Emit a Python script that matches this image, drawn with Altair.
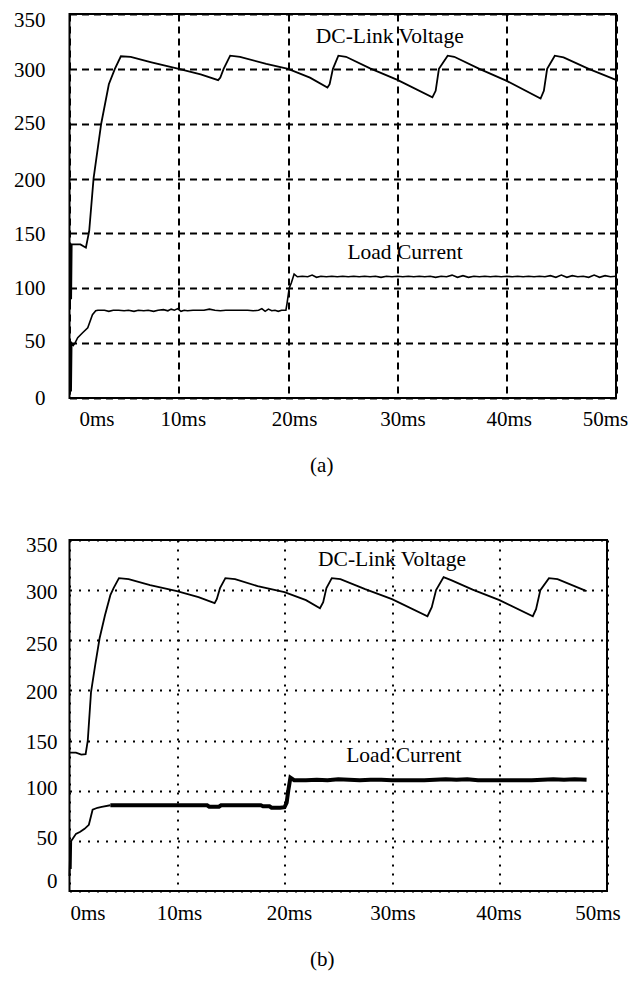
import altair as alt
import pandas as pd

FONT = "Liberation Serif"
X_TICKS = [0, 10, 20, 30, 40, 50]
Y_TICKS = [0, 50, 100, 150, 200, 250, 300, 350]
ANN_TEXT = ["DC-Link Voltage", "Load Current"]

# ---------- panel (a) ----------
VA_T = [0.05, 0.1, 0.15, 0.2, 0.3, 1.0, 1.5, 1.8, 2.2, 2.9, 3.6, 4.15, 4.7, 5.6, 7.5, 10.0, 12.0,
        13.6, 13.8, 14.1, 14.7, 15.6, 18.0, 20.0, 22.0, 23.6, 23.8, 24.1, 24.6, 25.3, 27.5, 30.0,
        33.2, 33.5, 33.8, 34.6, 35.2, 37.5, 40.0, 43.1, 43.4, 43.7, 44.4, 45.2, 47.5, 50.0]
VA_V = [84, 141, 90, 140, 140, 140, 137, 152, 200, 250, 286, 300, 311.5, 311, 306, 300, 295,
        289.7, 292, 300, 312, 311, 304.5, 300, 292, 283, 286, 300, 312, 311, 300.5, 290,
        274, 280, 300, 312, 311, 300, 289, 273, 280, 300, 312, 310.5, 300, 290]

IA_T = [0.05, 0.1, 0.15, 0.2, 0.35, 0.5, 0.75, 1.2, 1.67, 2.1, 2.4, 2.6,
        3.2, 3.6, 4.0, 4.5, 5.0, 5.4, 5.9, 6.3, 6.8, 7.2, 7.7, 8.1, 8.6, 9.0, 9.3, 9.6, 9.9,
        10.2, 10.5, 10.8, 11.3, 11.8, 12.3, 12.8, 13.3, 13.8, 14.3, 14.8, 15.3, 15.8, 16.3,
        16.8, 17.3, 17.6, 17.9, 18.2, 18.5, 18.8, 19.1, 19.4, 19.8, 19.9, 20.1, 20.3, 20.55,
        20.85, 21.3, 21.8, 22.2, 22.6, 23.0, 23.5, 24.0, 24.5, 25.0, 25.5, 26.0, 26.5, 27.0,
        27.5, 28.0, 28.5, 29.0, 29.5, 30.0, 30.5, 31.0, 31.5, 32.0, 32.5, 33.0, 33.5, 34.0,
        34.5, 35.0, 35.5, 36.0, 36.5, 37.0, 37.5, 38.0, 38.5, 39.0, 39.5, 40.0, 40.5, 41.0,
        41.5, 42.0, 42.5, 43.0, 43.5, 44.0, 44.5, 45.0, 45.5, 46.0, 46.5, 47.0, 47.5, 48.0,
        48.5, 49.0, 49.5, 50.0]
IA_V = [3, 49, 6, 50, 48, 50, 55, 59.5, 64, 76, 79.5, 80,
        80, 79, 80, 80, 79.5, 80, 79, 80, 79.5, 80, 79, 80, 80.5, 79.5, 81, 80, 81.5,
        79, 80, 79.5, 80, 80, 80, 81, 80, 79.5, 80, 80, 80, 80, 80,
        79.5, 80, 81.5, 79, 81, 79.5, 80, 79, 80, 80, 86, 100, 105, 113,
        110.5, 111, 110.5, 112, 110, 111, 110.5, 111, 110.5, 111, 110.5, 111, 110.5, 111,
        110.5, 111, 110, 111, 110.5, 111, 110.5, 111, 110.5, 111, 110.5, 111, 110, 111,
        110.5, 112, 110, 111.5, 110, 111, 110.5, 111, 110.5, 111, 110.5, 111, 110.5, 111,
        110.5, 111, 110.5, 111, 110.5, 111.5, 110, 112, 110, 111.5, 110.5, 111, 110, 112,
        110, 111.5, 110.5, 111]

# ---------- panel (b) ----------
VB_T = [0.0, 0.6, 1.1, 1.5, 1.7, 2.0, 2.4, 2.8, 3.3, 3.8, 4.1, 4.6, 5.5, 7.5, 10.0, 12.0,
        13.5, 13.7, 14.0, 14.5, 15.4, 17.5, 20.0, 22.0, 23.3, 23.6, 23.9, 24.4, 25.2, 27.5,
        30.0, 33.3, 33.7, 34.1, 34.8, 35.5, 37.5, 40.0, 43.1, 43.4, 43.8, 44.6, 45.4, 48.1]
VB_V = [138, 138, 136, 136.5, 150, 198, 226, 252, 275, 295, 302, 312, 311, 305, 299, 293,
        287, 291, 302, 312, 311, 304, 298, 290, 282, 288, 302, 312, 311, 301,
        291, 274, 283, 300, 313, 310, 300.5, 290, 274, 281, 300, 312, 311, 299]

IB1_T = [0.0, 0.08, 0.12, 0.16, 0.3, 0.6, 1.0, 1.4, 1.8, 2.15, 2.6, 3.0, 3.8]
IB1_V = [15, 48, 22, 50, 52, 57, 59, 62, 66, 81, 83, 84, 85.5]
IB2_T = [3.8, 5.0, 6.5, 8.0, 9.5, 11.0, 12.8, 13.0, 13.9, 14.1, 15.5, 17.0, 17.8, 18.0,
         18.6, 18.8, 19.6, 20.0, 20.2, 20.35, 20.55, 20.9, 22, 23, 24, 25, 26, 27, 28, 29,
         30, 31, 32, 33, 34, 35, 36, 37, 38, 39, 40, 41, 42, 43, 44, 45, 46, 47, 48.1]
IB2_V = [85.5, 85.5, 85.5, 85.5, 85.5, 85.5, 85.5, 84, 84, 85.5, 85.5, 85.5, 85.5, 84.5,
         84.5, 83, 83, 83.5, 88, 100, 113, 110.5, 110.5, 111, 110.5, 111.5, 111, 110.5, 111, 111,
         110.5, 110.5, 110.5, 110.5, 111, 111.5, 111, 111.5, 110.5, 110.5, 110.5, 110.5, 110.5,
         110.5, 111, 111.5, 111, 111.5, 111]

ANN_A_T = [29.3, 30.7]
ANN_A_V = [329, 132]
ANN_B_T = [30.0, 31.1]
ANN_B_V = [330, 134.6]

# per-label offsets (labels in the original are not exactly at the ticks)
XOFF_A = [27, 4, 6, 5, 2, -11]
XOFF_B = [18, 2, 4.5, 0.5, -1, -9.5]
YOFF_A = [0, -2, 0, 1, 2, 0, 2, 6]
YOFF_B = [-10, -2, -2, 1.5, 2, 4, 2, 5]


def cond(values, offsets):
    return {"condition": [{"test": f"datum.value === {v}", "value": o}
                          for v, o in zip(values, offsets)], "value": 0}


def panel(series, ann_t, ann_v, W, H, dash, xoff, yoff, xpad, ypad, title, toff, tdx):
    rows = []
    for name, ts, vs, w in series:
        for t, v in zip(ts, vs):
            rows.append({"t": t, "y": v, "s": name, "w": w})
    df = pd.DataFrame(rows)
    xs = alt.Scale(domain=[0, 50], nice=False, zero=False)
    ys = alt.Scale(domain=[0, 350], nice=False, zero=False)
    xax = alt.Axis(values=X_TICKS, labelExpr="datum.value + 'ms'", title=None, ticks=False,
                   domain=False, grid=True, gridColor="black", gridDash=dash, gridWidth=2,
                   gridOpacity=1, labelFont=FONT, labelFontSize=21, labelColor="black",
                   labelPadding=xpad, labelOffset=cond(X_TICKS, xoff), labelFlush=False,
                   labelOverlap=False, labelBound=False)
    yax = alt.Axis(values=Y_TICKS, title=None, ticks=False, domain=False, grid=True,
                   gridColor="black", gridDash=dash, gridWidth=2, gridOpacity=1,
                   labelFont=FONT, labelFontSize=21, labelColor="black", labelPadding=ypad,
                   labelOffset=cond(Y_TICKS, yoff), labelFlush=False, labelOverlap=False,
                   minExtent=60)
    lines = alt.Chart(df).mark_line(color="black").encode(
        x=alt.X("t:Q", scale=xs, axis=xax),
        y=alt.Y("y:Q", scale=ys, axis=yax),
        detail="s:N",
        strokeWidth=alt.StrokeWidth("w:Q", scale=None, legend=None),
    )
    adf = pd.DataFrame({"t": ann_t, "y": ann_v, "label": ANN_TEXT})
    ann = alt.Chart(adf).mark_text(font=FONT, fontSize=21.5, color="black").encode(
        x=alt.X("t:Q", scale=xs, axis=xax),
        y=alt.Y("y:Q", scale=ys, axis=yax),
        text="label:N",
    )
    return alt.layer(lines, ann).properties(
        width=W, height=H,
        title=alt.TitleParams(title, orient="bottom", font=FONT, fontSize=21,
                              fontWeight="normal", color="black", offset=toff,
                              anchor="middle", dx=tdx),
    )


pa = panel([("V", VA_T, VA_V, 1.8), ("I", IA_T, IA_V, 1.6)], ANN_A_T, ANN_A_V,
           546.5, 384, [7, 5], XOFF_A, YOFF_A, 10, 24.5, "(a)", 26, -21)
pb = panel([("V", VB_T, VB_V, 1.8), ("I1", IB1_T, IB1_V, 1.8), ("I2", IB2_T, IB2_V, 4)],
           ANN_B_T, ANN_B_V, 537.5, 351, [2, 7], XOFF_B, YOFF_B, 11, 12.5, "(b)", 26, -16)

chart = alt.concat(pa, pb, columns=1, align="none", spacing=56).properties(
    padding={"left": 0.5, "top": 0, "right": 0, "bottom": 0}
).configure_view(stroke="black", strokeWidth=2)

chart.save("out.html", embed_options={"renderer": "svg", "actions": False})
